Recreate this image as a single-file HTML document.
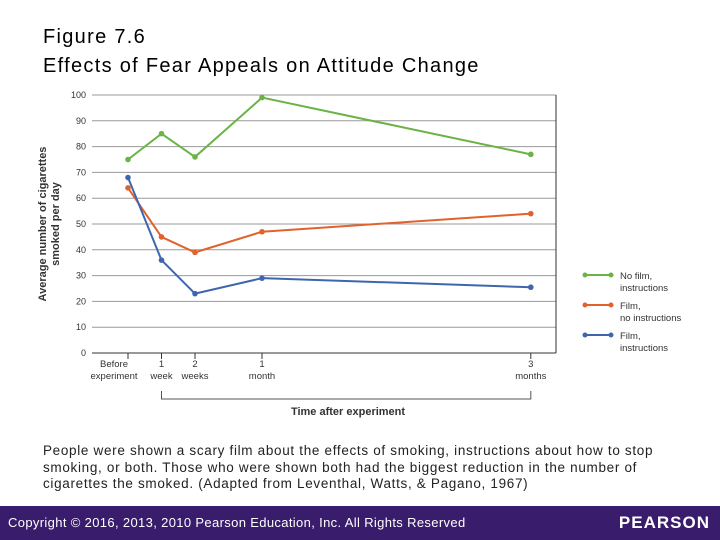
<!DOCTYPE html>
<html><head><meta charset="utf-8"><style>
body{margin:0;width:720px;height:540px;background:#fff;font-family:"Liberation Sans",sans-serif;position:relative;overflow:hidden}
.t{position:absolute;left:43px;font-size:20px;color:#000;letter-spacing:1.3px}
.cap{position:absolute;left:43px;top:443px;width:670px;font-size:13.5px;line-height:16.5px;color:#222;letter-spacing:0.68px;white-space:nowrap}
.foot{position:absolute;left:0;top:506px;width:720px;height:34px;background:#3a1c6c;color:#fff}
</style></head><body>
<div class="t" style="top:26px">Figure 7.6</div>
<div class="t" style="top:55px">Effects of Fear Appeals on Attitude Change</div>
<svg id="c" width="720" height="440" style="position:absolute;left:0;top:0"></svg>
<div class="cap">People were shown a scary film about the effects of smoking, instructions about how to stop<br>smoking, or both. Those who were shown both had the biggest reduction in the number of<br>cigarettes the smoked. (Adapted from Leventhal, Watts, &amp; Pagano, 1967)</div>
<div class="foot">
<span style="position:absolute;left:8px;top:9px;font-size:13px;letter-spacing:0.35px">Copyright © 2016, 2013, 2010 Pearson Education, Inc. All Rights Reserved</span>
<span style="position:absolute;right:10px;top:7px;font-size:17px;font-weight:bold;letter-spacing:1px">PEARSON</span>
</div>
<script>
const cats=["Before|experiment","1|week","2|weeks","1|month","3|months"];
const xpos=[0,1,2,4,12];
const noFilm=[75,85,76,99,77];
const filmNo=[64,45,39,47,54];
const filmInst=[68,36,23,29,25.5];
const ticks=[0,10,20,30,40,50,60,70,80,90,100];
const ns="http://www.w3.org/2000/svg",svg=document.getElementById('c');
const L=92,R=556,T=95,B=353;
const x=v=>128+(v<=2?v*33.5:v<=4?67+(v-2)*33.5:134+(v-4)*33.6);
const y=v=>B-(v/100)*(B-T);
function mk(t,a,p){const e=document.createElementNS(ns,t);for(const k in a)e.setAttribute(k,a[k]);(p||svg).appendChild(e);return e;}
ticks.forEach(v=>{
const g=mk('line',{x1:L,x2:R,y1:y(v),y2:y(v),stroke:v==0?'#333':'#999','stroke-width':1});


const t=mk('text',{x:L-6,y:y(v)+3,'text-anchor':'end','font-size':9,fill:'#333'});t.textContent=v;


});
mk('line',{x1:R,x2:R,y1:T,y2:B,stroke:'#333'});
cats.forEach((c,i)=>{const xx=x(xpos[i]);
mk('line',{x1:xx,x2:xx,y1:B,y2:B+6,stroke:'#333'});
const p=c.split('|');p.forEach((s,j)=>{const t=mk('text',{x:i==0?xx-14:xx,y:B+14+j*12,'text-anchor':'middle','font-size':9.5,fill:'#333'});t.textContent=s;

});});
mk('path',{d:`M${x(1)} ${B+38}V${B+46}H${x(12)}V${B+38}`,fill:'none',stroke:'#555'});
let t=mk('text',{x:348,y:415,'text-anchor':'middle','font-size':11,'font-weight':'bold',fill:'#333'});t.textContent='Time after experiment';

const yt=mk('text',{transform:'translate(46,224) rotate(-90)','text-anchor':'middle','font-size':11,'font-weight':'bold',fill:'#333'});

mk('tspan',{x:0,dy:0},yt).textContent='Average number of cigarettes';
mk('tspan',{x:0,dy:13},yt).textContent='smoked per day';
const series=[[noFilm,'#6ab344','no-film-instructions'],[filmNo,'#e0622c','film-no-instructions'],[filmInst,'#3f66ad','film-instructions']];
series.forEach(([d,col,n])=>{
const pl=mk('polyline',{points:d.map((v,i)=>x(xpos[i])+','+y(v)).join(' '),fill:'none',stroke:col,'stroke-width':2});

d.forEach((v,i)=>{const c=mk('circle',{cx:x(xpos[i]),cy:y(v),r:2.8,fill:col});
});});
const labs=[['No film,','instructions'],['Film,','no instructions'],['Film,','instructions']];
series.forEach(([d,col,n],i)=>{const yy=275+i*30;
const g=mk('g',{});
mk('line',{x1:585,x2:611,y1:yy,y2:yy,stroke:col,'stroke-width':2},g);
mk('circle',{cx:585,cy:yy,r:2.5,fill:col},g);mk('circle',{cx:611,cy:yy,r:2.5,fill:col},g);
labs[i].forEach((s,j)=>{mk('text',{x:620,y:yy+4+j*12,'font-size':9.5,fill:'#333'},g).textContent=s;});});
</script>
</body></html>
